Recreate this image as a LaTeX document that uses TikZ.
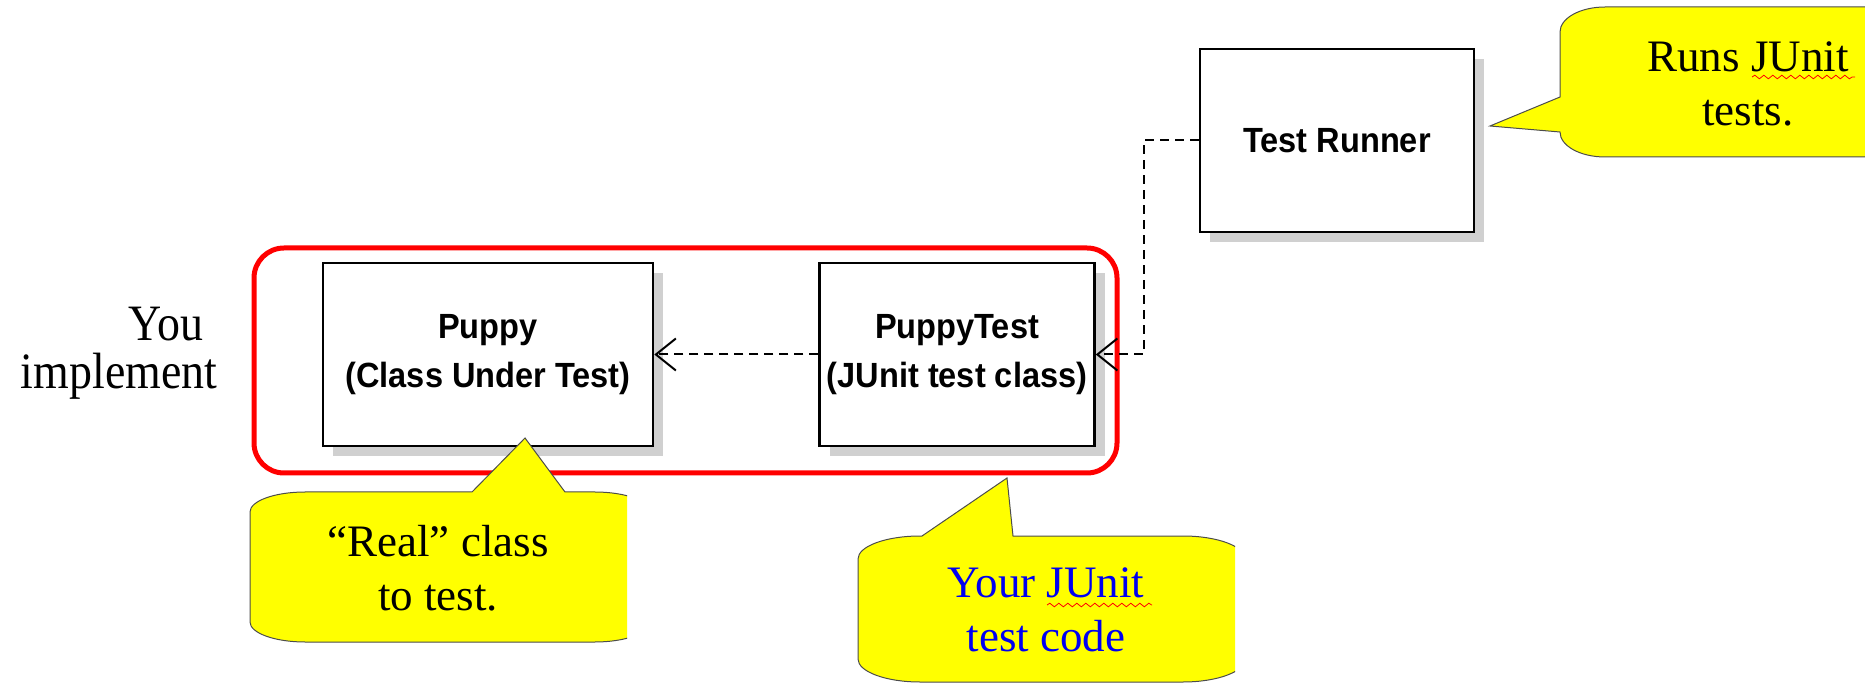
\documentclass[tikz,border=0pt]{standalone}
\usepackage{tikz}
\usetikzlibrary{arrows.meta, positioning, shadows, decorations.pathmorphing}
\usepackage{fontspec}
\setmainfont{Liberation Serif}
\setsansfont{Liberation Sans}
\newfontfamily\boxfont{Liberation Sans}[FakeStretch=0.93]
\newfontfamily\sidefont{Liberation Serif}[FakeStretch=0.9]
\usepackage{xcolor}
\definecolor{noteyellow}{RGB}{255,255,0}
\definecolor{boxshadow}{RGB}{208,208,208}
\definecolor{codeblue}{RGB}{0,0,240}
\tikzset{%
	classbox/.style={
		draw,
		line width=2.5pt,
		fill=white,
		minimum width=#1,
		minimum height=183pt,
		inner sep=1pt,
		align=center,
		font=\boxfont\bfseries\fontsize{35}{49}\selectfont,
		drop shadow={shadow xshift=10pt, shadow yshift=-10pt, fill=boxshadow, draw=none, opacity=1}
	},
	uses/.style={
		line width=2pt,
		dash pattern=on 9pt off 6pt,
		-{Straight Barb[length=20pt, width=32pt]}
	},
	note/.style={
		draw=black!70,
		line width=1pt,
		fill=noteyellow
	},
	note text/.style={
		align=center,
		inner sep=0pt,
		font=\fontsize{45}{54}\selectfont
	},
	% red squiggle of the spell checker
	misspelt/.style={
		draw=red,
		line width=0.8pt,
		decorate,
		decoration={snake, amplitude=1.8pt, segment length=9pt}
	},
}

\begin{document}
\begin{tikzpicture}[x=1pt, y=1pt]
	\useasboundingbox (0,0) rectangle (1865,683);
	
	% Red frame round the classes you write
	\node[draw=red, line width=5pt, rounded corners=30pt, minimum width=863pt, minimum height=225pt] (yours) at (685.5,322.5) {};
	\node[left=34pt of yours, yshift=7pt, align=right, inner sep=0pt, font=\sidefont\fontsize{51}{48}\selectfont] (you) {You\kern14pt\\implement};
	
	% Class boxes
	\node[classbox=330pt] (puppy) at (488,328.5) {Puppy\\(Class Under Test)};
	\node[classbox=275pt, right=164pt of puppy] (ptest) {PuppyTest\\(JUnit test class)};
	\node[classbox=274pt] (runner) at (1337,542.5) {Test Runner};
	
	% Dependencies
	\draw[uses] (ptest) -- (puppy);
	\draw[uses] (runner.west) -- ++(-55,0) |- (ptest.east);
	
	% Callout under Puppy
	\begin{scope}
		\clip (0,0) rectangle (627,683);
		\draw[note] (250,171) arc[start angle=180, end angle=90, x radius=55pt, y radius=20pt]
			-- (472,191) -- (525,245) -- (565,191) -- (595,191)
			arc[start angle=90, end angle=0, x radius=55pt, y radius=20pt]
			-- (650,61) arc[start angle=0, end angle=-90, x radius=55pt, y radius=20pt]
			-- (305,41) arc[start angle=270, end angle=180, x radius=55pt, y radius=20pt] -- cycle;
	\end{scope}
	\node[note text] (real) at (438,115) {“Real” class\\to test.};
	
	% Callout under PuppyTest
	\begin{scope}
		\clip (0,0) rectangle (1235,683);
		\draw[note] (858,124) arc[start angle=180, end angle=90, x radius=62pt, y radius=23pt]
			-- (922,147) -- (1007,205) -- (1013,147) -- (1183,147)
			arc[start angle=90, end angle=0, x radius=62pt, y radius=23pt]
			-- (1245,24) arc[start angle=0, end angle=-90, x radius=62pt, y radius=23pt]
			-- (920,1) arc[start angle=270, end angle=180, x radius=62pt, y radius=23pt] -- cycle;
	\end{scope}
	\node[note text, text=codeblue] (code) at (1046,73) {Your JUnit\\test code};
	\draw[misspelt] (1047,78) -- (1152,78);
	
	% Callout beside the runner
	\begin{scope}
		\clip (0,0) rectangle (1865,683);
		\draw[note] (1560,651) arc[start angle=180, end angle=90, x radius=45pt, y radius=25pt]
			-- (1900,676) -- (1900,526) -- (1605,526)
			arc[start angle=270, end angle=180, x radius=45pt, y radius=25pt]
			-- (1490,557) -- (1560,586) -- cycle;
	\end{scope}
	\node[note text] (runs) at (1748,599) {Runs JUnit\\tests.};
	\draw[misspelt] (1752,606) -- (1855,606);
\end{tikzpicture}
\end{document}
